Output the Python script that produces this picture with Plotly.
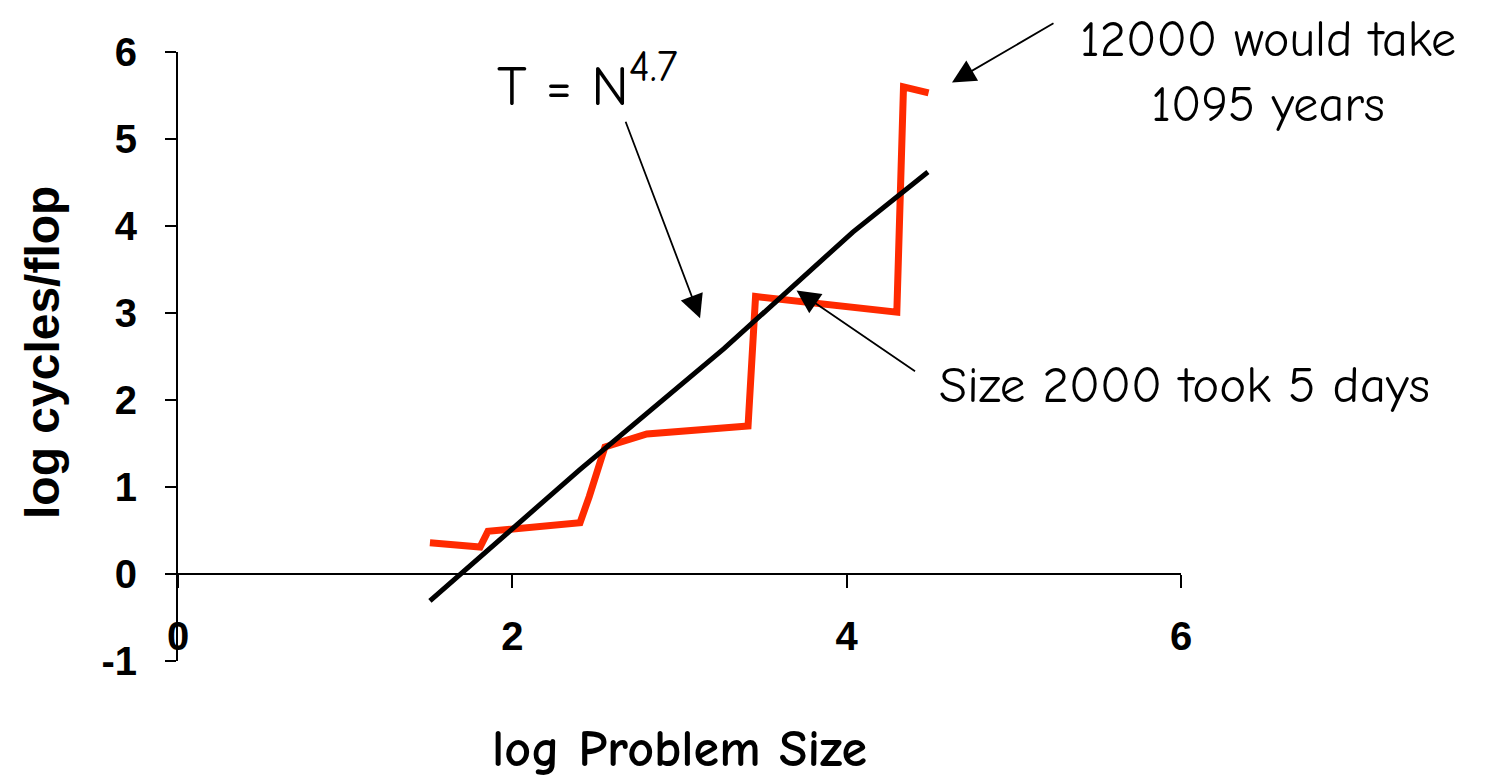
import plotly.graph_objects as go

# Measured (red) series: log problem size vs log cycles/flop
meas_x = [1.507, 1.807, 1.854, 2.405, 2.46, 2.554, 2.805, 3.41, 3.455, 4.30, 4.34, 4.49]
meas_y = [0.36, 0.31, 0.49, 0.59, 0.89, 1.46, 1.61, 1.70, 3.19, 3.01, 5.60, 5.53]

# Fit (black) line T = N^4.7
fit_x = [1.507, 2.404, 3.266, 4.037, 4.486]
fit_y = [-0.31, 1.20, 2.59, 3.93, 4.62]

x_ticks = [0, 2, 4, 6]
y_ticks = [-1, 0, 1, 2, 3, 4, 5, 6]

comic = "Comic Sans MS, Comic Neue, Lato, sans-serif"
arial = "Arial, Liberation Sans, sans-serif"
narrow = "Arial Narrow, Liberation Sans Narrow, Liberation Sans, sans-serif"

fig = go.Figure()
fig.add_trace(go.Scatter(x=meas_x, y=meas_y, mode="lines",
                         line=dict(color="#ff2a00", width=7), showlegend=False,
                         hoverinfo="skip"))
fig.add_trace(go.Scatter(x=fit_x, y=fit_y, mode="lines",
                         line=dict(color="black", width=5), showlegend=False,
                         hoverinfo="skip"))

fig.update_layout(
    width=1485, height=780, autosize=False,
    margin=dict(l=170, r=312, t=44, b=127),
    paper_bgcolor="white", plot_bgcolor="white",
    xaxis=dict(range=[0, 6], tickvals=x_ticks, ticktext=[str(v) for v in x_ticks],
               anchor="free", position=1/7, showgrid=False, zeroline=False,
               showline=True, linecolor="black", linewidth=2,
               ticks="outside", ticklen=13, tickwidth=2, tickcolor="black",
               ticklabelstandoff=14,
               tickfont=dict(family=narrow, size=40, color="black", weight="bold"),
               title=dict(text="log Problem Size", standoff=72,
                          font=dict(family=comic, size=52, color="black", weight="bold"))),
    yaxis=dict(range=[-1, 6], tickvals=y_ticks, ticktext=[str(v) for v in y_ticks],
               showgrid=False, zeroline=False,
               showline=True, linecolor="black", linewidth=2,
               ticks="outside", ticklen=11, tickwidth=2, tickcolor="black",
               ticklabelstandoff=20,
               tickfont=dict(family=narrow, size=40, color="black", weight="bold")),
)

ah = dict(showarrow=True, arrowhead=2, arrowsize=2.6, arrowwidth=1.8, arrowcolor="black",
          xref="x", yref="y", text="")
annotations = [
    dict(x=3.123, y=2.94, ax=-75, ay=-198, **ah),
    dict(x=3.70, y=3.26, ax=120, ay=82, **ah),
    dict(x=4.63, y=5.65, ax=103, ay=-60, **ah),
]


def page(px, py):
    # page pixel position -> paper fraction of the plot area (page offset 8px)
    return (px - 178) / 1003, (661 - py) / 609


tx, ty = page(43, 353)
annotations.append(dict(x=tx, y=ty, xref="paper", yref="paper",
                        text="log cycles/flop", showarrow=False, textangle=-90,
                        xanchor="center", yanchor="middle",
                        font=dict(family=arial, size=48, color="black", weight="bold")))
tx, ty = page(495, 80)
annotations.append(dict(x=tx, y=ty, xref="paper", yref="paper",
                        text="T = N<sup><span style='font-size:44px'>4.7</span></sup>",
                        showarrow=False, xanchor="left", yanchor="middle",
                        font=dict(family=comic, size=57, color="black")))
tx, ty = page(937, 385)
annotations.append(dict(x=tx, y=ty, xref="paper", yref="paper",
                        text="Size 2000 took 5 days", showarrow=False,
                        xanchor="left", yanchor="middle",
                        font=dict(family=comic, size=51, color="black")))
tx, ty = page(1268, 73)
annotations.append(dict(x=tx, y=ty, xref="paper", yref="paper",
                        text="12000 would take<br>1095 years", showarrow=False,
                        xanchor="center", yanchor="middle", align="center",
                        font=dict(family=comic, size=50, color="black")))
fig.update_layout(annotations=annotations)

fig.write_html("out.html")
